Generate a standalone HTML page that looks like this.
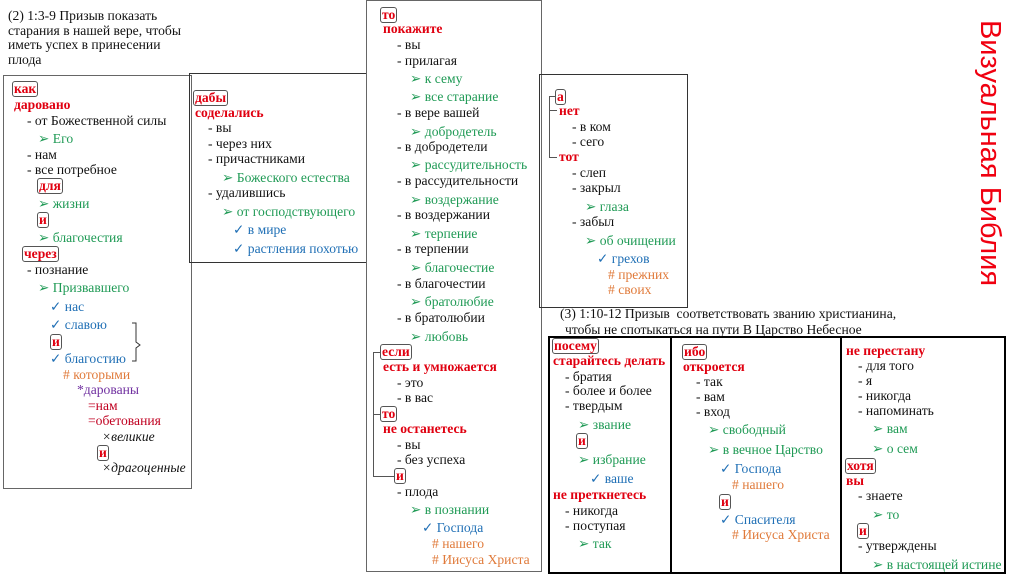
<!DOCTYPE html>
<html><head><meta charset="utf-8"><style>
body{margin:0;width:1024px;height:574px;background:#fff;position:relative;overflow:hidden;font-family:"Liberation Serif",serif;font-size:13.6px;color:#111}
.l{position:absolute;white-space:nowrap;line-height:16px;height:16px}
.bx{position:absolute;border:1px solid #666}
.r{color:#e00010;font-weight:bold}
.g{color:#1f9a55}
.b{color:#1f6fb5}
.o{color:#e07a3a}
.p{color:#7030a0}
.dr{color:#c00020}
.k{color:#e00010;font-weight:bold;border:1px solid #555;border-radius:3px;padding:0 1px;line-height:14px;display:inline-block}
.i{font-style:italic}
.ln{position:absolute;background:#555}
</style></head><body>
<!-- boxes -->
<div class="bx" style="left:3px;top:75px;width:187px;height:412px"></div>
<div class="bx" style="left:189px;top:73px;width:176px;height:188px;border-color:#333"></div>
<div class="bx" style="left:366px;top:0px;width:174px;height:570px"></div>
<div class="bx" style="left:539px;top:74px;width:147px;height:232px;border-color:#333"></div>
<div class="bx" style="left:548px;top:336px;width:454px;height:234px;border:2px solid #000"></div>
<div class="ln" style="left:670px;top:336px;width:2px;height:236px;background:#000"></div>
<div class="ln" style="left:840px;top:336px;width:2px;height:236px;background:#000"></div>

<div class="l" style="left:990px;top:153px;width:0;height:0"><div style="position:absolute;left:-140px;top:-17px;width:280px;text-align:center;transform:rotate(90deg);font-family:'Liberation Sans',sans-serif;font-size:29px;line-height:34px;height:34px;color:#f00010">Визуальная Библия</div></div>

<!-- left header -->
<div class="l" style="left:8px;top:8px">(2) 1:3-9 Призыв показать</div>
<div class="l" style="left:8px;top:23px">старания в нашей вере, чтобы</div>
<div class="l" style="left:8px;top:37px">иметь успех в принесении</div>
<div class="l" style="left:8px;top:52px">плода</div>

<!-- left box -->
<div class="l" style="left:12px;top:81px"><span class="k">как</span></div>
<div class="l r" style="left:14px;top:97px">даровано</div>
<div class="l" style="left:27px;top:113px">- от Божественной силы</div>
<div class="l g" style="left:38px;top:131px">➢ Его</div>
<div class="l" style="left:27px;top:147px">- нам</div>
<div class="l" style="left:27px;top:162px">- все потребное</div>
<div class="l" style="left:37px;top:178px"><span class="k">для</span></div>
<div class="l g" style="left:38px;top:196px">➢ жизни</div>
<div class="l" style="left:37px;top:212px"><span class="k">и</span></div>
<div class="l g" style="left:38px;top:230px">➢ благочестия</div>
<div class="l" style="left:22px;top:246px"><span class="k">через</span></div>
<div class="l" style="left:27px;top:262px">- познание</div>
<div class="l g" style="left:38px;top:280px">➢ Призвавшего</div>
<div class="l b" style="left:50px;top:299px">✓ нас</div>
<div class="l b" style="left:50px;top:317px">✓ славою</div>
<div class="l" style="left:50px;top:334px"><span class="k">и</span></div>
<div class="l b" style="left:50px;top:351px">✓ благостию</div>
<div class="l o" style="left:63px;top:367px"># которыми</div>
<div class="l p" style="left:77px;top:382px">*дарованы</div>
<div class="l dr" style="left:88px;top:398px">=нам</div>
<div class="l dr" style="left:88px;top:413px">=обетования</div>
<div class="l i" style="left:102px;top:429px">×великие</div>
<div class="l" style="left:97px;top:445px"><span class="k">и</span></div>
<div class="l i" style="left:102px;top:460px">×драгоценные</div>
<svg style="position:absolute;left:130px;top:320px" width="16" height="46"><path d="M2 3 H6 V22 L10 25 L6 28 V41 H2" fill="none" stroke="#333" stroke-width="1"/></svg>

<!-- дабы box -->
<div class="l" style="left:193px;top:90px"><span class="k">дабы</span></div>
<div class="l r" style="left:195px;top:105px">соделались</div>
<div class="l" style="left:208px;top:120px">- вы</div>
<div class="l" style="left:208px;top:136px">- через них</div>
<div class="l" style="left:208px;top:151px">- причастниками</div>
<div class="l g" style="left:222px;top:170px">➢ Божеского естества</div>
<div class="l" style="left:208px;top:185px">- удалившись</div>
<div class="l g" style="left:222px;top:204px">➢ от господствующего</div>
<div class="l b" style="left:233px;top:222px">✓ в мире</div>
<div class="l b" style="left:233px;top:241px">✓ растления похотью</div>

<!-- middle box -->
<div class="l" style="left:380px;top:7px"><span class="k">то</span></div>
<div class="l r" style="left:383px;top:21px">покажите</div>
<div class="l" style="left:397px;top:37px">- вы</div>
<div class="l" style="left:397px;top:53px">- прилагая</div>
<div class="l g" style="left:410px;top:71px">➢ к сему</div>
<div class="l g" style="left:410px;top:89px">➢ все старание</div>
<div class="l" style="left:397px;top:105px">- в вере вашей</div>
<div class="l g" style="left:410px;top:124px">➢ добродетель</div>
<div class="l" style="left:397px;top:139px">- в добродетели</div>
<div class="l g" style="left:410px;top:157px">➢ рассудительность</div>
<div class="l" style="left:397px;top:173px">- в рассудительности</div>
<div class="l g" style="left:410px;top:192px">➢ воздержание</div>
<div class="l" style="left:397px;top:207px">- в воздержании</div>
<div class="l g" style="left:410px;top:226px">➢ терпение</div>
<div class="l" style="left:397px;top:241px">- в терпении</div>
<div class="l g" style="left:410px;top:260px">➢ благочестие</div>
<div class="l" style="left:397px;top:276px">- в благочестии</div>
<div class="l g" style="left:410px;top:294px">➢ братолюбие</div>
<div class="l" style="left:397px;top:310px">- в братолюбии</div>
<div class="l g" style="left:410px;top:329px">➢ любовь</div>
<div class="l" style="left:380px;top:344px"><span class="k">если</span></div>
<div class="l r" style="left:383px;top:359px">есть и умножается</div>
<div class="l" style="left:397px;top:375px">- это</div>
<div class="l" style="left:397px;top:390px">- в вас</div>
<div class="l" style="left:380px;top:406px"><span class="k">то</span></div>
<div class="l r" style="left:383px;top:421px">не останетесь</div>
<div class="l" style="left:397px;top:437px">- вы</div>
<div class="l" style="left:397px;top:452px">- без успеха</div>
<div class="l" style="left:394px;top:468px"><span class="k">и</span></div>
<div class="l" style="left:397px;top:484px">- плода</div>
<div class="l g" style="left:410px;top:502px">➢ в познании</div>
<div class="l b" style="left:422px;top:520px">✓ Господа</div>
<div class="l o" style="left:432px;top:536px"># нашего</div>
<div class="l o" style="left:432px;top:552px"># Иисуса Христа</div>
<div class="ln" style="left:373px;top:352px;width:1px;height:125px"></div>
<div class="ln" style="left:373px;top:352px;width:7px;height:1px"></div>
<div class="ln" style="left:373px;top:414px;width:7px;height:1px"></div>
<div class="ln" style="left:373px;top:476px;width:21px;height:1px"></div>

<!-- а нет box -->
<div class="l" style="left:555px;top:89px"><span class="k">а</span></div>
<div class="l r" style="left:559px;top:103px">нет</div>
<div class="l" style="left:572px;top:119px">- в ком</div>
<div class="l" style="left:572px;top:134px">- сего</div>
<div class="l r" style="left:559px;top:149px">тот</div>
<div class="l" style="left:572px;top:165px">- слеп</div>
<div class="l" style="left:572px;top:180px">- закрыл</div>
<div class="l g" style="left:585px;top:199px">➢ глаза</div>
<div class="l" style="left:572px;top:214px">- забыл</div>
<div class="l g" style="left:585px;top:233px">➢ об очищении</div>
<div class="l b" style="left:597px;top:251px">✓ грехов</div>
<div class="l o" style="left:608px;top:267px"># прежних</div>
<div class="l o" style="left:608px;top:282px"># своих</div>
<div class="ln" style="left:549px;top:96px;width:1px;height:62px"></div>
<div class="ln" style="left:549px;top:96px;width:6px;height:1px"></div>
<div class="ln" style="left:549px;top:110px;width:8px;height:1px"></div>
<div class="ln" style="left:549px;top:157px;width:8px;height:1px"></div>

<!-- bottom heading -->
<div class="l" style="left:560px;top:306px">(3) 1:10-12 Призыв &nbsp;соответствовать званию христианина,</div>
<div class="l" style="left:565px;top:322px">чтобы не спотыкаться на пути В Царство Небесное</div>

<!-- col1 -->
<div class="l" style="left:552px;top:338px"><span class="k">посему</span></div>
<div class="l r" style="left:553px;top:353px">старайтесь делать</div>
<div class="l" style="left:565px;top:369px">- братия</div>
<div class="l" style="left:565px;top:383px">- более и более</div>
<div class="l" style="left:565px;top:398px">- твердым</div>
<div class="l g" style="left:578px;top:417px">➢ звание</div>
<div class="l" style="left:576px;top:433px"><span class="k">и</span></div>
<div class="l g" style="left:578px;top:452px">➢ избрание</div>
<div class="l b" style="left:590px;top:471px">✓ ваше</div>
<div class="l r" style="left:553px;top:487px">не преткнетесь</div>
<div class="l" style="left:565px;top:503px">- никогда</div>
<div class="l" style="left:565px;top:518px">- поступая</div>
<div class="l g" style="left:578px;top:536px">➢ так</div>

<!-- col2 -->
<div class="l" style="left:682px;top:344px"><span class="k">ибо</span></div>
<div class="l r" style="left:683px;top:359px">откроется</div>
<div class="l" style="left:696px;top:374px">- так</div>
<div class="l" style="left:696px;top:389px">- вам</div>
<div class="l" style="left:696px;top:404px">- вход</div>
<div class="l g" style="left:708px;top:422px">➢ свободный</div>
<div class="l g" style="left:708px;top:442px">➢ в вечное Царство</div>
<div class="l b" style="left:720px;top:461px">✓ Господа</div>
<div class="l o" style="left:732px;top:477px"># нашего</div>
<div class="l" style="left:719px;top:494px"><span class="k">и</span></div>
<div class="l b" style="left:720px;top:512px">✓ Спасителя</div>
<div class="l o" style="left:732px;top:527px"># Иисуса Христа</div>

<!-- col3 -->
<div class="l r" style="left:846px;top:343px">не перестану</div>
<div class="l" style="left:858px;top:358px">- для того</div>
<div class="l" style="left:858px;top:373px">- я</div>
<div class="l" style="left:858px;top:388px">- никогда</div>
<div class="l" style="left:858px;top:403px">- напоминать</div>
<div class="l g" style="left:872px;top:421px">➢ вам</div>
<div class="l g" style="left:872px;top:441px">➢ о сем</div>
<div class="l" style="left:845px;top:458px"><span class="k">хотя</span></div>
<div class="l r" style="left:846px;top:473px">вы</div>
<div class="l" style="left:858px;top:488px">- знаете</div>
<div class="l g" style="left:872px;top:507px">➢ то</div>
<div class="l" style="left:857px;top:523px"><span class="k">и</span></div>
<div class="l" style="left:858px;top:538px">- утверждены</div>
<div class="l g" style="left:872px;top:557px">➢ в настоящей истине</div>
</body></html>
